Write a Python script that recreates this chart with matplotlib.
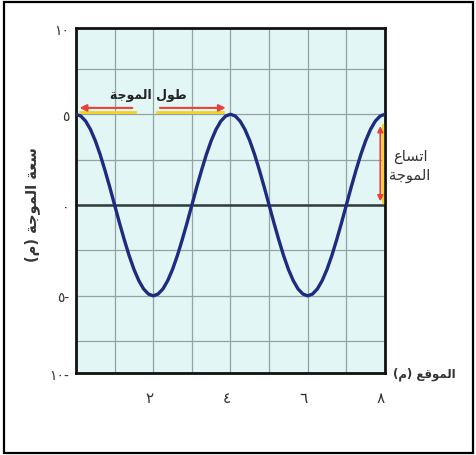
import matplotlib
matplotlib.use('Agg')
import matplotlib.pyplot as plt
from matplotlib.patches import Rectangle

# النص العربي مكتوب بأشكال العرض (presentation forms) وبالترتيب المرئي
title_wavelength = '\uFE94\uFE9F\uFEEE\uFEE4\uFEDF\uFE8D \uFEDD\uFEEE\uFEC3'          # طول الموجة
amp_line1 = '\uFEC9\uFE8E\uFEB4\uFE97\uFE8D'                                          # اتساع
amp_line2 = '\uFE94\uFE9F\uFEEE\uFEE4\uFEDF\uFE8D'                                    # الموجة
x_label = '(\uFEE1) \uFECA\uFED7\uFEEE\uFEE4\uFEDF\uFE8D'                             # الموقع (م)
y_label = '(\uFEE1) \uFE94\uFE9F\uFEEE\uFEE4\uFEDF\uFE8D \uFE94\uFECC\uFEB3'          # سعة الموجة (م)

x_ticks = [2, 4, 6, 8]
x_ticklabels = ['\u0662', '\u0664', '\u0666', '\u0668']
y_ticklabels = ['\u0661\u0660', '\u0665', '\u0660', '\u0665-', '\u0661\u0660-']

# قيم الموجة مقروءة من الرسم (الموقع بالمتر، السعة بالمتر)
position = [0.0, 0.125, 0.25, 0.375, 0.5, 0.625, 0.75, 0.875,
            1.0, 1.125, 1.25, 1.375, 1.5, 1.625, 1.75, 1.875,
            2.0, 2.125, 2.25, 2.375, 2.5, 2.625, 2.75, 2.875,
            3.0, 3.125, 3.25, 3.375, 3.5, 3.625, 3.75, 3.875,
            4.0, 4.125, 4.25, 4.375, 4.5, 4.625, 4.75, 4.875,
            5.0, 5.125, 5.25, 5.375, 5.5, 5.625, 5.75, 5.875,
            6.0, 6.125, 6.25, 6.375, 6.5, 6.625, 6.75, 6.875,
            7.0, 7.125, 7.25, 7.375, 7.5, 7.625, 7.75, 7.875, 8.0]
amplitude = [5.0, 4.90, 4.62, 4.16, 3.54, 2.78, 1.91, 0.98,
             0.0, -0.98, -1.91, -2.78, -3.54, -4.16, -4.62, -4.90,
             -5.0, -4.90, -4.62, -4.16, -3.54, -2.78, -1.91, -0.98,
             0.0, 0.98, 1.91, 2.78, 3.54, 4.16, 4.62, 4.90,
             5.0, 4.90, 4.62, 4.16, 3.54, 2.78, 1.91, 0.98,
             0.0, -0.98, -1.91, -2.78, -3.54, -4.16, -4.62, -4.90,
             -5.0, -4.90, -4.62, -4.16, -3.54, -2.78, -1.91, -0.98,
             0.0, 0.98, 1.91, 2.78, 3.54, 4.16, 4.62, 4.90, 5.0]

plt.rcParams['font.family'] = ['DejaVu Sans']

fig = plt.figure(figsize=(4.76, 4.56), dpi=100)
ax = fig.add_axes([0.1597, 0.1798, 0.649, 0.7566])
ax.set_facecolor('#e2f6f5')

# إطار الصورة الخارجي
fig.patches.append(Rectangle((0.008, 0.004), 0.986, 0.99, transform=fig.transFigure,
                             fill=False, edgecolor='black', linewidth=1.6))

# المحور الرأسي في الأصل ليس متماثلا تماما حول الصفر
y_bottom, y_top = -9.25, 9.75
ax.set_xlim(0, 8)
ax.set_ylim(y_bottom, y_top)

# خطوط الشبكة
for gx in range(1, 8):
    ax.axvline(gx, color='#93a3a1', linewidth=0.9, zorder=1)
for gy in [7.5, 5, 2.5, -2.5, -5, -7.5]:
    ax.axhline(gy, color='#93a3a1', linewidth=0.9, zorder=1)
ax.axhline(0, color='#2f3a3a', linewidth=1.8, zorder=2)

ax.plot(position, amplitude, color='#1d2b80', linewidth=2.4, zorder=3,
        solid_joinstyle='round', solid_capstyle='round')

for s in ax.spines.values():
    s.set_linewidth(2.0)
    s.set_color('#111111')

ax.set_xticks(x_ticks)
ax.set_xticklabels(x_ticklabels, fontsize=11, color='#333333', ha='right')
ax.set_yticks([y_top, 5, 0, -5, y_bottom])
ax.set_yticklabels(y_ticklabels, fontsize=10, color='#333333')
ax.tick_params(length=0)
ax.tick_params(axis='y', pad=5)
ax.tick_params(axis='x', pad=12)

ax.set_ylabel(y_label, fontsize=10.5, color='#333333', fontweight='bold')
ax.yaxis.set_label_coords(-0.115, 0.49)
ax.text(1.025, 0.0, x_label, transform=ax.transAxes, fontsize=8.5, color='#333333',
        ha='left', va='center', fontweight='bold')

# سهم طول الموجة
ax.annotate('', xy=(0.02, 5.35), xytext=(1.53, 5.35),
            arrowprops=dict(arrowstyle='-|>', color='#e8403a', lw=1.5, mutation_scale=10),
            zorder=5)
ax.annotate('', xy=(3.95, 5.35), xytext=(2.1, 5.35),
            arrowprops=dict(arrowstyle='-|>', color='#e8403a', lw=1.5, mutation_scale=10),
            zorder=5)
ax.plot([0.1, 1.53], [5.12, 5.12], color='#f5d320', linewidth=2.0, zorder=4)
ax.plot([2.1, 3.8], [5.12, 5.12], color='#f5d320', linewidth=2.0, zorder=4)
ax.text(1.87, 6.1, title_wavelength, fontsize=9, fontweight='bold', color='#222222',
        ha='center', va='center', zorder=5)

# سهم اتساع الموجة
ax.annotate('', xy=(7.88, 4.5), xytext=(7.88, 0.05),
            arrowprops=dict(arrowstyle='<|-|>', color='#e8403a', lw=1.3, mutation_scale=8),
            zorder=5)
ax.plot([7.95, 7.95], [4.4, 0.1], color='#f5d320', linewidth=1.6, zorder=4)
ax.text(1.081, 0.603, amp_line1 + '\n' + amp_line2, transform=ax.transAxes, fontsize=10.5,
        color='#333333', ha='center', va='center', linespacing=1.25)

plt.savefig('out.png', dpi=100)
